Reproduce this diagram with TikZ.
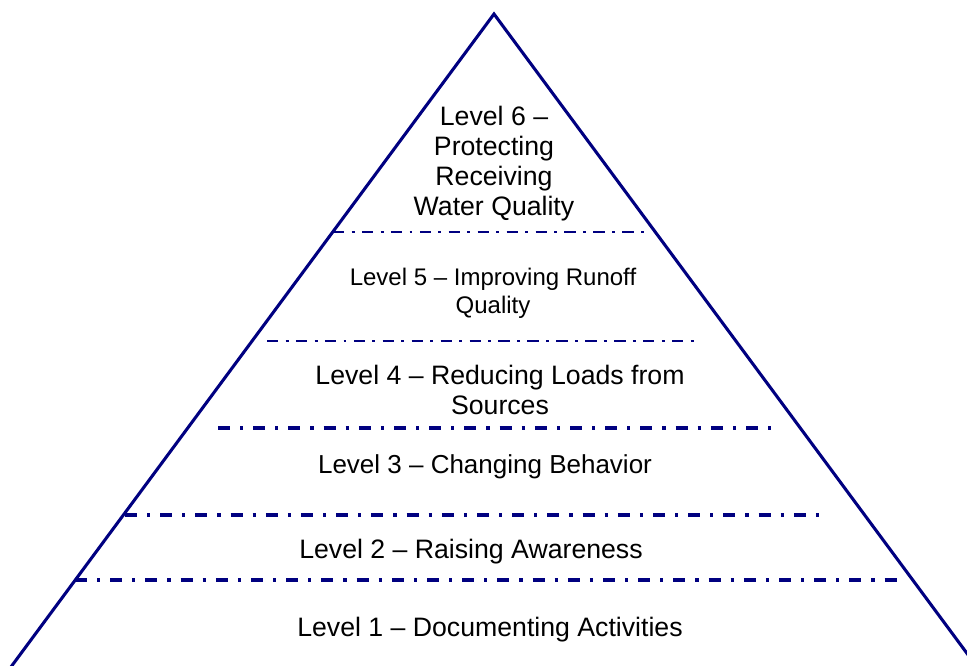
\documentclass[tikz,border=0pt]{standalone}
\usepackage{fontspec}
\setmainfont{Liberation Sans}
\definecolor{pyrblue}{RGB}{0,0,128}

\tikzset{
    levelthin/.style={pyrblue, line width=2.2pt, dash pattern=on 8.5pt off 5.5pt on 2.2pt off 5.5pt},
    levelthick/.style={pyrblue, line width=2.4pt, dash pattern=on 9pt off 7.5pt on 2.4pt off 7.5pt},
    leveltext/.style={anchor=base, inner sep=0pt, align=center, font=\fontsize{20}{22.5}\selectfont},
}

\begin{document}
\begin{tikzpicture}[x=0.75pt,y=-0.75pt]
    \useasboundingbox (0,0) rectangle (967,665);

    % outline of the pyramid
    \coordinate (apex) at (494,14);
    \coordinate (baseL) at (5,675);
    \coordinate (baseR) at (983,675);
    \draw[pyrblue, line width=2.3pt, line join=miter] (baseL) -- (apex) -- (baseR);

    % separators between the levels
    \foreach \y/\xa/\xb/\sty in {232/333/647/levelthin, 341/267/697/levelthin,
                                 428/218/780/levelthick, 515/125/828/levelthick,
                                 580/75/906/levelthick}{
            \draw[\sty] (\xa,\y) -- (\xb,\y);
    }

    % base anchor sits on the last line of each label
    \node[leveltext] (lvsix) at (494,215) {Level 6 --\\Protecting\\Receiving\\Water Quality};
    \node[leveltext, font=\fontsize{18}{21}\selectfont] (lvfive) at (493,313) {Level 5 -- Improving Runoff\\Quality};
    \node[leveltext] (lvfour) at (500,414) {Level 4 -- Reducing Loads from\\Sources};
    \node[leveltext, font=\fontsize{19.5}{22}\selectfont] (lvthree) at (485,473) {Level 3 -- Changing Behavior};
    \node[leveltext] (lvtwo) at (471,558) {Level 2 -- Raising Awareness};
    \node[leveltext] (lvone) at (490,636) {Level 1 -- Documenting Activities};

\end{tikzpicture}
\end{document}
